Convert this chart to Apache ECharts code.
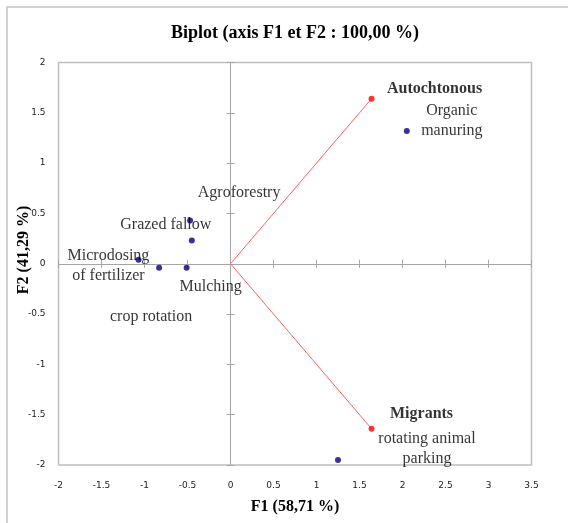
<!DOCTYPE html>
<html>
<head>
<meta charset="utf-8">
<script src="https://cdn.jsdelivr.net/npm/echarts@6/dist/echarts.min.js"></script>
<style>html,body{margin:0;padding:0;background:#fff;}#chart{width:568px;height:523px;}</style>
</head>
<body>
<div id="chart"></div>
<script>
// ---- data ----
const obsNames = ['Organic\nmanuring', 'Agroforestry', 'Grazed fallow', 'Microdosing\nof fertilizer', 'crop rotation', 'Mulching', 'rotating animal\nparking'];
const obsF1 = [2.05, -0.47, -0.45, -1.07, -0.83, -0.51, 1.25];
const obsF2 = [1.32, 0.43, 0.23, 0.04, -0.04, -0.04, -1.95];
const varNames = ['Autochtonous', 'Migrants'];
const varF1 = [1.64, 1.64];
const varF2 = [1.64, -1.64];
const xTicks = {min: -2, max: 3.5, interval: 0.5};
const yTicks = {min: -2, max: 2, interval: 0.5};

// ---- label placement (style only) ----
const obsLabelOffset = {
  'Organic\nmanuring': [45, -10],
  'Agroforestry': [49, -28],
  'Grazed fallow': [-26, -16],
  'Microdosing\nof fertilizer': [-30, 6],
  'crop rotation': [-8, 49],
  'Mulching': [24, 19],
  'rotating animal\nparking': [89, -11]
};
const varLabelOffset = {
  'Autochtonous': [63, -10],
  'Migrants': [50, -15]
};

const serif = 'Liberation Serif, Times New Roman, serif';
const axisGrey = '#a6a6a6';

function baseAxis(t) {
  return {type: 'value', min: t.min, max: t.max, interval: t.interval, splitLine: {show: false}};
}
const tickLabel = {fontSize: 9, fontFamily: 'DejaVu Sans', color: '#222'};

const xAxes = [
  Object.assign(baseAxis(xTicks), {position: 'bottom', axisLine: {show: false, onZero: false}, axisTick: {show: false},
    axisLabel: Object.assign({margin: 16}, tickLabel),
    name: 'F1 (58,71 %)', nameLocation: 'middle', nameGap: 34,
    nameTextStyle: {fontFamily: serif, fontWeight: 'bold', fontSize: 16, color: '#000'}}),
  Object.assign(baseAxis(xTicks), {position: 'bottom', axisLine: {show: true, onZero: true, onZeroAxisIndex: 0, lineStyle: {color: axisGrey, width: 1}},
    axisTick: {show: true, length: 4, inside: false, lineStyle: {color: axisGrey}}, axisLabel: {show: false}}),
  Object.assign(baseAxis(xTicks), {position: 'bottom', axisLine: {show: true, onZero: true, onZeroAxisIndex: 0, lineStyle: {color: axisGrey, width: 1}},
    axisTick: {show: true, length: 4, inside: true, lineStyle: {color: axisGrey}}, axisLabel: {show: false}})
];
const yAxes = [
  Object.assign(baseAxis(yTicks), {position: 'left', axisLine: {show: false, onZero: false}, axisTick: {show: false},
    axisLabel: Object.assign({margin: 13}, tickLabel)}),
  Object.assign(baseAxis(yTicks), {position: 'left', axisLine: {show: true, onZero: true, onZeroAxisIndex: 0, lineStyle: {color: axisGrey, width: 1}},
    axisTick: {show: true, length: 4, inside: false, lineStyle: {color: axisGrey}}, axisLabel: {show: false}}),
  Object.assign(baseAxis(yTicks), {position: 'left', axisLine: {show: true, onZero: true, onZeroAxisIndex: 0, lineStyle: {color: axisGrey, width: 1}},
    axisTick: {show: true, length: 4, inside: true, lineStyle: {color: axisGrey}}, axisLabel: {show: false}})
];

const obsData = obsNames.map((n, i) => ({
  name: n,
  value: [obsF1[i], obsF2[i]],
  label: {offset: obsLabelOffset[n]}
}));
const varData = varNames.map((n, i) => ({
  name: n,
  value: [varF1[i], varF2[i]],
  label: {offset: varLabelOffset[n]}
}));

const vectorSeries = varNames.map((n, i) => ({
  type: 'line',
  xAxisIndex: 0, yAxisIndex: 0,
  data: [[0, 0], [varF1[i], varF2[i]]],
  symbol: 'none',
  lineStyle: {color: '#ff6060', width: 1},
  silent: true,
  z: 2
}));

const option = {
  animation: false,
  backgroundColor: '#fff',
  title: {
    text: 'Biplot (axis F1 et F2 : 100,00 %)',
    left: 290, top: 19, textAlign: 'center',
    textStyle: {fontFamily: serif, fontWeight: 'bold', fontSize: 18, color: '#000'}
  },
  grid: {left: 58.5, top: 62.5, width: 473, height: 402.5, show: true, borderColor: '#bfbfbf', borderWidth: 1.5, backgroundColor: 'transparent'},
  xAxis: xAxes,
  yAxis: yAxes,
  graphic: [
    {type: 'rect', shape: {x: 7, y: 7, width: 700, height: 700}, style: {fill: 'none', stroke: '#c4c4c4', lineWidth: 1.5}, z: -10},
    {type: 'text', x: 24, y: 250, rotation: Math.PI / 2,
      style: {text: 'F2 (41,29 %)', font: 'bold 16px ' + serif, fill: '#000', textAlign: 'center', textVerticalAlign: 'middle'}}
  ],
  series: vectorSeries.concat([
    {
      type: 'scatter', xAxisIndex: 0, yAxisIndex: 0,
      data: varData,
      symbolSize: 6,
      itemStyle: {color: '#ff0000'},
      label: {show: true, position: 'inside', formatter: p => p.name, fontFamily: serif, fontSize: 16, fontWeight: 'bold', color: '#000', align: 'center', verticalAlign: 'middle'},
      z: 4
    },
    {
      type: 'scatter', xAxisIndex: 0, yAxisIndex: 0,
      data: obsData,
      symbolSize: 6,
      itemStyle: {color: '#00007a'},
      label: {show: true, position: 'inside', formatter: p => p.name, fontFamily: serif, fontSize: 16, color: '#000', lineHeight: 20, align: 'center', verticalAlign: 'middle'},
      z: 3
    }
  ])
};

const chart = echarts.init(document.getElementById('chart'), null, {renderer: 'canvas'});
chart.setOption(option);
</script>
</body>
</html>
